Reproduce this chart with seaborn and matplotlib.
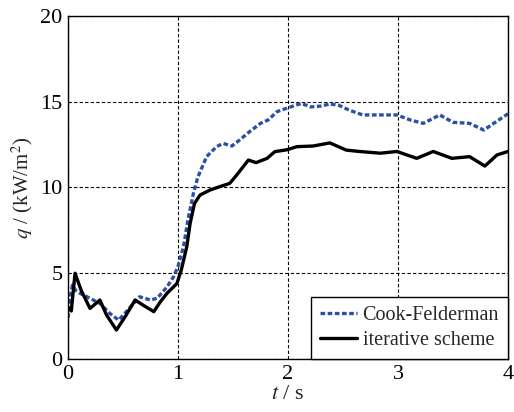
import numpy as np
import pandas as pd
import matplotlib
matplotlib.use("Agg")
import matplotlib.pyplot as plt
import seaborn as sns

# Cook-Felderman (blue dotted)
cf_t = [0.0, 0.02, 0.04, 0.07, 0.11, 0.2, 0.29, 0.38, 0.46, 0.53, 0.65, 0.75, 0.81, 0.9, 0.96, 1.0,
        1.05, 1.09, 1.14, 1.18, 1.26, 1.35, 1.41, 1.49, 1.56, 1.65, 1.75, 1.82, 1.9, 2.0, 2.12,
        2.21, 2.3, 2.38, 2.46, 2.56, 2.68, 2.84, 2.99, 3.11, 3.23, 3.38, 3.5, 3.65, 3.78, 3.87, 4.0]
cf_q = [2.4, 3.6, 4.3, 4.0, 3.83, 3.54, 3.24, 2.66, 2.27, 2.76, 3.63, 3.44, 3.54, 4.2, 4.8, 5.4,
        6.55, 8.1, 9.66, 10.6, 11.8, 12.38, 12.57, 12.42, 12.77, 13.25, 13.74, 13.94, 14.42, 14.65, 14.9,
        14.7, 14.75, 14.87, 14.8, 14.5, 14.23, 14.23, 14.23, 13.94, 13.74, 14.23, 13.8, 13.74, 13.35, 13.74, 14.3]

# iterative scheme (black solid)
it_t = [0.0, 0.03, 0.064, 0.12, 0.2, 0.29, 0.35, 0.44, 0.52, 0.61, 0.68, 0.78, 0.84, 0.9, 0.99,
        1.03, 1.08, 1.11, 1.15, 1.2, 1.29, 1.38, 1.47, 1.53, 1.64, 1.71, 1.81, 1.88, 1.99, 2.08,
        2.23, 2.38, 2.53, 2.65, 2.84, 2.99, 3.17, 3.32, 3.49, 3.65, 3.79, 3.9, 4.0]
it_q = [3.0, 2.8, 5.0, 4.0, 2.95, 3.44, 2.57, 1.69, 2.47, 3.44, 3.15, 2.76, 3.34, 3.83, 4.4,
        5.2, 6.55, 7.9, 9.07, 9.56, 9.85, 10.05, 10.24, 10.7, 11.6, 11.45, 11.7, 12.09, 12.2, 12.38,
        12.42, 12.6, 12.18, 12.1, 12.0, 12.1, 11.7, 12.1, 11.7, 11.8, 11.25, 11.9, 12.1]

series_names = ["Cook-Felderman", "iterative scheme"]

df = pd.concat([
    pd.DataFrame({"t": cf_t, "q": cf_q, "method": series_names[0]}),
    pd.DataFrame({"t": it_t, "q": it_q, "method": series_names[1]}),
], ignore_index=True)

sns.set_style("white")
plt.rcParams["font.family"] = ["Liberation Serif", "DejaVu Serif"]
plt.rcParams["mathtext.fontset"] = "stix"

fig = plt.figure(figsize=(5.14, 4.12), dpi=100)
ax = fig.add_axes([68 / 514, 1 - 359 / 412, 440 / 514, 343 / 412])

sns.lineplot(data=df, x="t", y="q", hue="method", style="method",
             palette={series_names[0]: "#2d4fa6", series_names[1]: "#000000"},
             dashes={series_names[0]: (1.4, 0.75), series_names[1]: ""},
             linewidth=2.4, ax=ax, sort=False, estimator=None)

ax.set_xlim(0, 4)
ax.set_ylim(0, 20)
ax.set_xticks([0, 1, 2, 3, 4])
ax.set_yticks([0, 5, 10, 15, 20])
ax.grid(True, color="black", linestyle=(0, (3, 2)), linewidth=0.8)
for s in ax.spines.values():
    s.set_color("black")
    s.set_linewidth(1.0)
ax.tick_params(axis="both", labelsize=16, length=0, pad=4, colors="black")
ax.set_xlabel("$t$ / s", fontsize=16, labelpad=1)
ax.set_ylabel("$q$ / (kW/m$^2$)", fontsize=15, labelpad=4)

leg = ax.legend(loc="lower right", fontsize=14.5, frameon=True, fancybox=False,
                edgecolor="black", framealpha=1, borderaxespad=0, handlelength=1.8,
                handletextpad=0.3, borderpad=0.45, labelspacing=0.3)
leg.get_frame().set_linewidth(1.0)

fig.savefig("out.png", dpi=100)
